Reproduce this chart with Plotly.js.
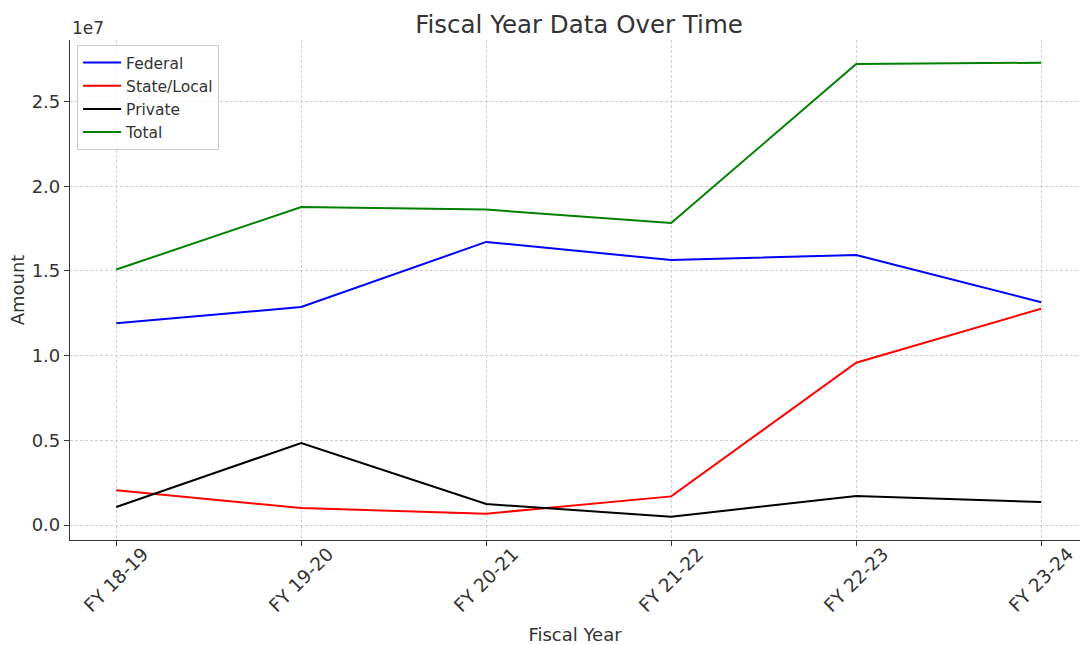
<!DOCTYPE html>
<html>
<head>
<meta charset="utf-8">
<script src="https://cdn.plot.ly/plotly-3.0.1.min.js"></script>
<style>html,body{margin:0;padding:0;background:#fff;}#chart{width:1081px;height:645px;}</style>
</head>
<body>
<div id="chart"></div>
<script>
const fiscalYears = ["FY 18-19", "FY 19-20", "FY 20-21", "FY 21-22", "FY 22-23", "FY 23-24"];
const federal = [11910000, 12870000, 16710000, 15640000, 15940000, 13150000];
const stateLocal = [2050000, 1000000, 670000, 1690000, 9580000, 12770000];
const privateFunds = [1060000, 4840000, 1240000, 490000, 1710000, 1360000];
const total = [15080000, 18770000, 18620000, 17830000, 27210000, 27290000];
const yTickVals = [0, 5000000, 10000000, 15000000, 20000000, 25000000];
const yTickText = ["0.0", "0.5", "1.0", "1.5", "2.0", "2.5"];

const xIdx = fiscalYears.map((_, i) => i);
function mk(name, y, color) {
  return {x: xIdx, y: y, name: name, type: 'scatter', mode: 'lines',
          line: {color: color, width: 2}};
}
const data = [
  mk('Federal', federal, '#0000ff'),
  mk('State/Local', stateLocal, '#ff0000'),
  mk('Private', privateFunds, '#000000'),
  mk('Total', total, '#008000')
];
const font = "DejaVu Sans, sans-serif";
// rotated category labels, centred under each tick (as in the reference)
const xLabelAnnotations = fiscalYears.map((lab, i) => ({
  text: lab, xref: 'x', yref: 'paper', x: i, y: 0, xanchor: 'center', yanchor: 'top',
  yshift: 0, textangle: -45, showarrow: false,
  font: {family: font, size: 18.5, color: '#333'}
}));
const layout = {
  width: 1081, height: 645,
  margin: {l: 70, r: 1, t: 40, b: 105},
  paper_bgcolor: '#fff', plot_bgcolor: '#fff',
  font: {family: font, color: '#333', size: 15},
  showlegend: true,
  title: {text: 'Fiscal Year Data Over Time', font: {family: font, size: 24.5, color: '#333'},
          x: 0.504, xref: 'paper', xanchor: 'center', y: 0.962, yref: 'container', yanchor: 'middle'},
  xaxis: {
    range: [-0.25, 5.21], tickmode: 'array', tickvals: xIdx, ticktext: fiscalYears,
    showticklabels: false, ticks: 'outside', ticklen: 5, tickcolor: '#333', tickwidth: 1,
    showline: true, linecolor: '#333', linewidth: 1.2, zeroline: false,
    showgrid: true, gridcolor: '#cfcfcf', griddash: '3px,2px', gridwidth: 1,
    automargin: false,
    title: {text: 'Fiscal Year', font: {family: font, size: 18, color: '#333'}, standoff: 83}
  },
  yaxis: {
    range: [-885000, 28630000], tickmode: 'array', tickvals: yTickVals, ticktext: yTickText,
    ticks: 'outside', ticklen: 5, tickcolor: '#333', tickwidth: 1,
    showline: true, linecolor: '#333', linewidth: 1.2, zeroline: false,
    showgrid: true, gridcolor: '#cfcfcf', griddash: '3px,2px', gridwidth: 1,
    tickfont: {family: font, size: 18, color: '#333'},
    automargin: false,
    title: {text: 'Amount', font: {family: font, size: 18, color: '#333'}, standoff: 2}
  },
  legend: {
    x: 0.007, y: 0.99, xanchor: 'left', yanchor: 'top',
    bgcolor: 'rgba(255,255,255,0.8)', bordercolor: '#cccccc', borderwidth: 1,
    font: {family: font, size: 15.5, color: '#333'}, itemwidth: 38, tracegroupgap: 0
  },
  annotations: [{
    text: '1e7', xref: 'paper', yref: 'paper', x: 0, y: 1, xanchor: 'left', yanchor: 'bottom',
    showarrow: false, font: {family: font, size: 17, color: '#333'}, yshift: 0
  }].concat(xLabelAnnotations)
};
Plotly.newPlot('chart', data, layout, {displayModeBar: false});
</script>
</body>
</html>
